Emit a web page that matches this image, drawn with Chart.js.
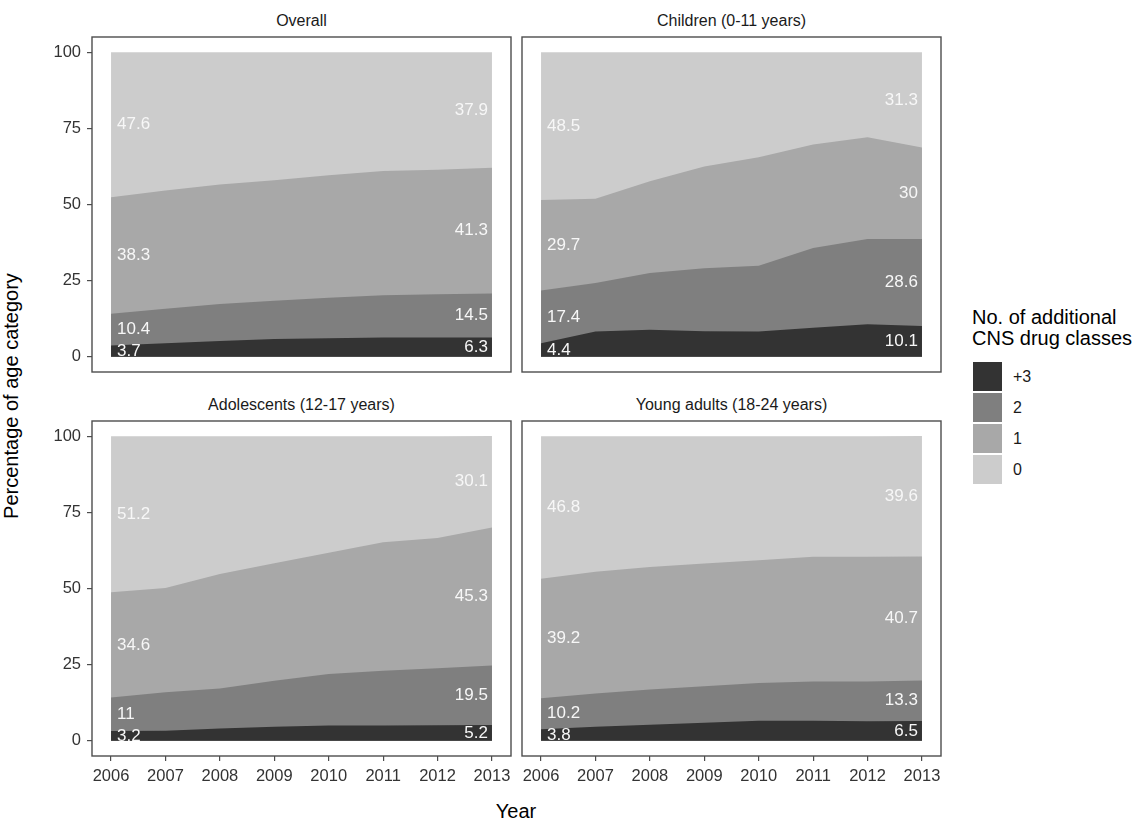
<!DOCTYPE html>
<html>
<head>
<meta charset="utf-8">
<title>Additional CNS drug classes by age category</title>
<script src="https://cdn.jsdelivr.net/npm/chart.js@4.4.1/dist/chart.umd.min.js"></script>
<style>
  body {
    margin: 0;
    width: 1143px;
    height: 820px;
    position: relative;
    overflow: hidden;
    background: #fff;
    font-family: "Liberation Sans", Arial, sans-serif;
  }
  .box { position: absolute; }
  .strip { position: absolute; font-size: 16px; line-height: 20px; color: #1a1a1a; text-align: center; }
  .title { position: absolute; font-size: 20px; line-height: 24px; color: #000; text-align: center; }
  #ytitle { transform: rotate(-90deg); }
  .key { position: absolute; left: 973px; width: 29px; height: 29px; }
  .keylab { position: absolute; left: 1013px; font-size: 16px; line-height: 20px; color: #1a1a1a; }
  #legtitle { position: absolute; left: 972px; top: 307px; font-size: 20px; line-height: 21px; color: #000; }
</style>
</head>
<body>

<div class="title" id="ytitle" style="left:-189px; top:384px; width:400px;">Percentage of age category</div>
<div class="title" style="left:316px; top:799px; width:400px;">Year</div>

<div id="legtitle">No. of additional<br>CNS drug classes</div>
<div id="legend"></div>

<script>
// data, one array per class and age group
const years = [2006, 2007, 2008, 2009, 2010, 2011, 2012, 2013];
const yTicks = [0, 25, 50, 75, 100];
const classNames = ["+3", "2", "1", "0"];
const classColors = ["#333333", "#7f7f7f", "#a8a8a8", "#cccccc"];

const overall3 = [3.7, 4.4, 5.2, 5.8, 6.1, 6.3, 6.3, 6.3];
const overall2 = [10.4, 11.4, 12.1, 12.6, 13.3, 13.9, 14.2, 14.5];
const overall1 = [38.3, 38.8, 39.3, 39.6, 40.2, 40.8, 40.9, 41.3];
const overall0 = [47.6, 45.4, 43.4, 42.0, 40.4, 39.0, 38.6, 37.9];

const children3 = [4.4, 8.3, 8.9, 8.4, 8.3, 9.5, 10.7, 10.1];
const children2 = [17.4, 15.9, 18.6, 20.7, 21.6, 26.2, 28.0, 28.6];
const children1 = [29.7, 27.7, 30.1, 33.4, 35.6, 34.0, 33.4, 30];
const children0 = [48.5, 48.1, 42.4, 37.5, 34.5, 30.3, 27.9, 31.3];

const adol3 = [3.2, 3.3, 4.0, 4.6, 5.0, 5.0, 5.1, 5.2];
const adol2 = [11, 12.6, 13.2, 15.1, 16.9, 18.0, 18.7, 19.5];
const adol1 = [34.6, 34.3, 37.6, 38.6, 39.8, 42.2, 42.8, 45.3];
const adol0 = [51.2, 49.8, 45.2, 41.7, 38.3, 34.8, 33.4, 30.1];

const young3 = [3.8, 4.6, 5.3, 5.9, 6.6, 6.6, 6.4, 6.5];
const young2 = [10.2, 10.9, 11.5, 12.0, 12.4, 12.9, 13.1, 13.3];
const young1 = [39.2, 40.0, 40.3, 40.3, 40.3, 40.9, 40.9, 40.7];
const young0 = [46.8, 44.5, 42.9, 41.8, 40.7, 39.6, 39.6, 39.6];

// facet layout (pixel box of each panel border)
const panelW = 419;
const panelH = 335;
const panels = [
  { title: "Overall", series: [overall3, overall2, overall1, overall0], left: 92, top: 37, showY: true, showX: false },
  { title: "Children (0-11 years)", series: [children3, children2, children1, children0], left: 522, top: 37, showY: false, showX: false },
  { title: "Adolescents (12-17 years)", series: [adol3, adol2, adol1, adol0], left: 92, top: 421, showY: true, showX: true },
  { title: "Young adults (18-24 years)", series: [young3, young2, young1, young0], left: 522, top: 421, showY: false, showX: true }
];

const FONT = "'Liberation Sans', Arial, sans-serif";
const AXIS_W = 50;
const AXIS_H = 40;
const M = 3;

// draws the panel frame like ggplot's theme_bw
const framePlugin = {
  id: "frame",
  afterDraw(chart) {
    let a = chart.chartArea;
    let ctx = chart.ctx;
    ctx.save();
    ctx.strokeStyle = "#4d4d4d";
    ctx.lineWidth = 1.4;
    ctx.strokeRect(a.left, a.top, a.right - a.left, a.bottom - a.top);
    ctx.restore();
  }
};

// value labels at the first and last year, centred in each band
const labelPlugin = {
  id: "bandLabels",
  afterDatasetsDraw(chart) {
    let ctx = chart.ctx;
    let xs = chart.scales.x;
    let ys = chart.scales.y;
    let sets = chart.data.datasets;
    let last = years.length - 1;
    ctx.save();
    ctx.font = "17px " + FONT;
    ctx.fillStyle = "#f7f7f7";
    ctx.textBaseline = "middle";
    [0, last].forEach(idx => {
      let base = 0;
      for (let d = 0; d < sets.length; d++) {
        let v = sets[d].raw[idx];
        let y = ys.getPixelForValue(base + v / 2);
        base += v;
        if (idx === 0) {
          ctx.textAlign = "left";
          ctx.fillText(String(v), xs.getPixelForValue(years[idx]) + 6, y);
        } else {
          ctx.textAlign = "right";
          ctx.fillText(String(v), xs.getPixelForValue(years[idx]) - 4, y);
        }
      }
    });
    ctx.restore();
  }
};

function makePanel(p) {
  let padL = p.showY ? AXIS_W : M;
  let padB = p.showX ? AXIS_H : M;
  let w = panelW + padL + M;
  let h = panelH + M + padB;

  let div = document.createElement("div");
  div.className = "box";
  div.style.left = (p.left - padL) + "px";
  div.style.top = (p.top - M) + "px";
  let canvas = document.createElement("canvas");
  canvas.width = w;
  canvas.height = h;
  div.appendChild(canvas);
  document.body.appendChild(div);

  let strip = document.createElement("div");
  strip.className = "strip";
  strip.style.left = p.left + "px";
  strip.style.width = panelW + "px";
  strip.style.top = (p.top - 26) + "px";
  strip.textContent = p.title;
  document.body.appendChild(strip);

  let datasets = p.series.map((vals, i) => ({
    label: classNames[i],
    raw: vals,
    data: years.map((yr, j) => ({ x: yr, y: vals[j] })),
    backgroundColor: classColors[i],
    borderWidth: 0,
    pointRadius: 0,
    tension: 0,
    fill: "origin"
  }));

  new Chart(canvas, {
    type: "line",
    data: { datasets: datasets },
    options: {
      responsive: false,
      animation: false,
      layout: { padding: { left: p.showY ? 0 : M, top: M, right: M, bottom: p.showX ? 0 : M } },
      plugins: { legend: { display: false }, tooltip: { enabled: false } },
      scales: {
        x: {
          type: "linear",
          min: 2005.65,
          max: 2013.35,
          display: p.showX,
          afterBuildTicks: s => { s.ticks = years.map(v => ({ value: v })); },
          afterFit: s => {
            if (p.showX) s.height = AXIS_H;
            s.paddingLeft = 0;
            s.paddingRight = 0;
          },
          border: { display: false },
          grid: { drawOnChartArea: false, drawTicks: true, tickLength: 5, color: "#4d4d4d", lineWidth: 1.2 },
          ticks: {
            autoSkip: false,
            maxRotation: 0,
            padding: 6,
            color: "#333333",
            font: { family: FONT, size: 16.5 },
            callback: v => String(v)
          }
        },
        y: {
          type: "linear",
          stacked: true,
          min: -5,
          max: 105,
          display: p.showY,
          afterBuildTicks: s => { s.ticks = yTicks.map(v => ({ value: v })); },
          afterFit: s => {
            if (p.showY) s.width = AXIS_W;
            s.paddingTop = 0;
            s.paddingBottom = 0;
          },
          border: { display: false },
          grid: { drawOnChartArea: false, drawTicks: true, tickLength: 5, color: "#4d4d4d", lineWidth: 1.2 },
          ticks: {
            padding: 6,
            color: "#333333",
            font: { family: FONT, size: 16.5 },
            callback: v => String(v)
          }
        }
      }
    },
    plugins: [framePlugin, labelPlugin]
  });
}

panels.forEach(makePanel);

// legend keys, top class first
let legend = document.getElementById("legend");
for (let i = 0; i < classNames.length; i++) {
  let top = 362 + i * 31;
  let key = document.createElement("div");
  key.className = "key";
  key.style.top = top + "px";
  key.style.background = classColors[i];
  legend.appendChild(key);
  let lab = document.createElement("div");
  lab.className = "keylab";
  lab.style.top = (top + 5) + "px";
  lab.textContent = classNames[i];
  legend.appendChild(lab);
}
</script>
</body>
</html>
